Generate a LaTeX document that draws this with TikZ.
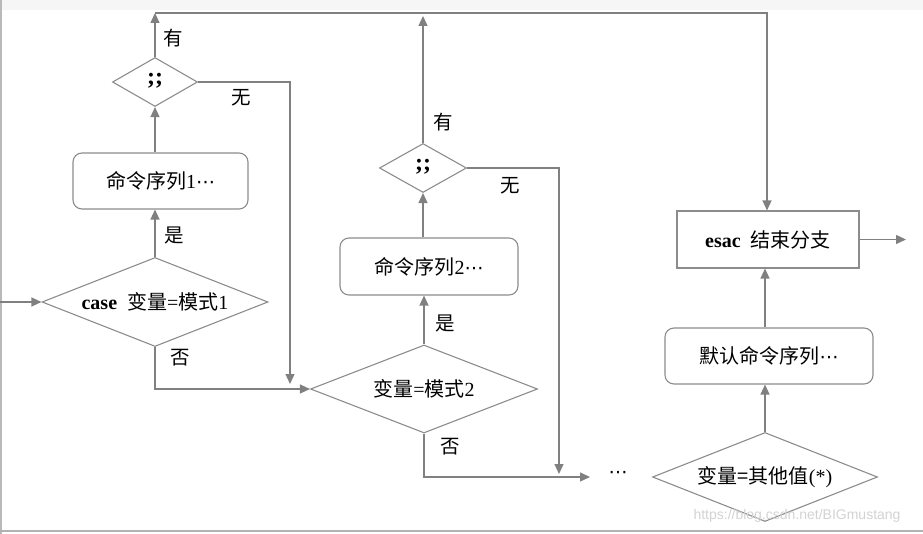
\documentclass[tikz,border=0pt]{standalone}
\usepackage{fontspec}
\setmainfont{Liberation Serif}
\newfontfamily\cjk{Noto Sans CJK SC}
\newfontfamily\wmfont{Liberation Sans}
\newfontfamily\symfont{DejaVu Sans}
\newcommand{\mdots}{{\symfont\fontsize{19}{20}\selectfont ⋯}}
\usetikzlibrary{shapes.geometric,arrows.meta}
\definecolor{linegray}{HTML}{808080}
\definecolor{boxgray}{HTML}{8C8C8C}
\tikzset{
  conn/.style={draw=linegray, line width=1.3pt},
  arr/.style={conn, -{Triangle[length=10pt,width=9pt]}},
  dia/.style={draw=boxgray, line width=1.1pt, shape=diamond, inner sep=0pt},
  rbox/.style={draw=boxgray, line width=1.1pt, rectangle, rounded corners=9pt, inner sep=0pt},
  sbox/.style={draw=boxgray, line width=1.1pt, rectangle, inner sep=0pt},
  txt/.style={font=\fontsize{20}{22}\selectfont, inner sep=0pt},
  lab/.style={font=\cjk\fontsize{19.5}{21}\selectfont, inner sep=0pt},
}
\begin{document}
\begin{tikzpicture}[x=1pt,y=-1pt]
\useasboundingbox (0,0) rectangle (923,534);
% screenshot frame
\fill[gray!7] (0,0) rectangle (923,10);
\draw[gray!55, line width=1.5pt] (1,0) -- (1,534);
\draw[gray!60, line width=1.5pt] (0,531) -- (923,531);

% shapes
\node[dia, minimum width=85pt, minimum height=49pt] (d1) at (155,82) {};
\node[txt, font=\fontsize{24}{24}\bfseries] at (155,81) {;;};
\node[rbox, minimum width=175pt, minimum height=56pt] (b1) at (160.5,181) {};
\node[txt] at (b1.center) {{\cjk 命令序列}1\mdots};
\node[dia, minimum width=226pt, minimum height=89pt] (cs) at (155,302) {};
\node[txt] at (cs.center) {{\bfseries case}\ \ {\cjk 变量}={\cjk 模式}1};

\node[dia, minimum width=227pt, minimum height=88pt] (d2) at (424,389) {};
\node[txt] at (d2.center) {{\cjk 变量}={\cjk 模式}2};
\node[rbox, minimum width=178pt, minimum height=57pt] (b2) at (429,266.5) {};
\node[txt] at (b2.center) {{\cjk 命令序列}2\mdots};
\node[dia, minimum width=87pt, minimum height=49pt] (d3) at (423,168) {};
\node[txt, font=\fontsize{24}{24}\bfseries] at (423,167) {;;};

\node[dia, minimum width=225pt, minimum height=89pt] (d4) at (765,477) {};
\node[txt] at (d4.center) {{\cjk 变量=其他值}(*)};
\node[rbox, minimum width=208pt, minimum height=56pt] (bd) at (769,356) {};
\node[txt] at (bd.center) {{\cjk 默认命令序列}\mdots};
\node[sbox, minimum width=182pt, minimum height=57pt] (es) at (768,239.5) {};
\node[txt] at (es.center) {{\bfseries esac}\ \ {\cjk 结束分支}};

\node[inner sep=0pt] (dots) at (618,475) {\mdots};

% helper coordinates
\coordinate (in) at (0,302);
\coordinate (t1) at (155,13);
\coordinate (t2) at (423,16);
\coordinate (tR) at (767,13);
\coordinate (j1) at (290,384);
\coordinate (j2) at (559,474);
\coordinate (e2) at (590,477);
\coordinate (out) at (906,239.5);

% connectors
\draw[arr] (in) -- (cs.west);
\draw[arr] (cs.north) -- (cs.north |- b1.south);
\draw[arr] (b1.north -| d1.south) -- (d1.south);
\draw[arr] (d1.north) -- (t1);
\draw[arr] (t1) -- (tR) -- (es.north -| tR);
\draw[arr] (d1.east) -| (j1);
\draw[arr] (cs.south) |- (d2.west);

\draw[arr] (d2.north) -- (d2.north |- b2.south);
\draw[arr] (b2.north -| d3.south) -- (d3.south);
\draw[arr] (d3.north) -- (t2);
\draw[arr] (d3.east) -| (j2);
\draw[arr] (d2.south) |- (e2);

\draw[arr] (d4.north) -- (d4.north |- bd.south);
\draw[arr] (bd.north -| d4.north) -- (es.south -| d4.north);
\draw[arr] (es.east) -- (out);

% labels
\node[lab] at (173,38) {有};
\node[lab] at (241,98) {无};
\node[lab] at (174,236) {是};
\node[lab] at (180,358) {否};
\node[lab] at (443,122) {有};
\node[lab] at (510,186) {无};
\node[lab] at (445,323) {是};
\node[lab] at (450,447) {否};

% watermark
\node[inner sep=0pt, font=\wmfont\fontsize{14}{16}\selectfont, text=gray!35] at (797,516) {https://blog.csdn.net/BIGmustang};
\end{tikzpicture}
\end{document}
